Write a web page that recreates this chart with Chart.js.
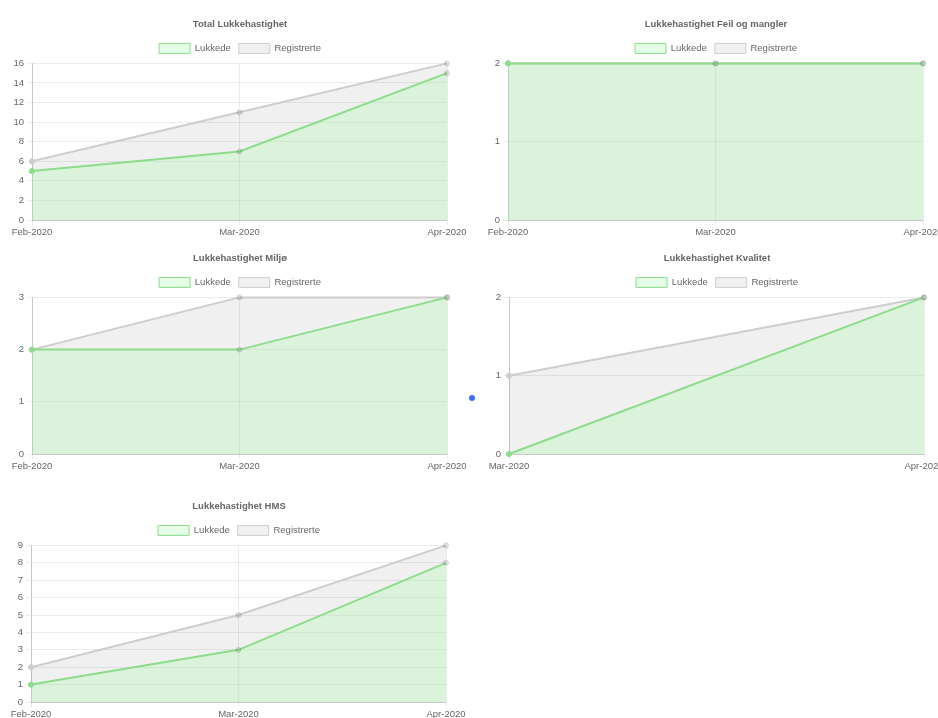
<!DOCTYPE html>
<html>
<head>
<meta charset="utf-8">
<title>Lukkehastighet</title>
<script src="https://cdn.jsdelivr.net/npm/chart.js@4.4.1/dist/chart.umd.min.js"></script>
<style>
  html, body { margin: 0; padding: 0; background: #fff; width: 938px; height: 718px; overflow: hidden; position: relative; }
  .chart-box { position: absolute; width: 480px; height: 238px; }
  .chart-box canvas { display: block; }
  #box-0 { left: 0; top: 0; }
  #box-1 { left: 476px; top: 0; }
  #box-2 { left: 0; top: 234px; }
  #box-3 { left: 477px; top: 234px; }
  #box-4 { left: -1px; top: 482px; }
  .page-dot { position: absolute; left: 469px; top: 395px; width: 6px; height: 6px; border-radius: 50%; background: #3b6ef5; }
</style>
</head>
<body>
<div class="chart-box" id="box-0"><canvas id="chart-0" width="480" height="238"></canvas></div>
<div class="chart-box" id="box-1"><canvas id="chart-1" width="480" height="238"></canvas></div>
<div class="chart-box" id="box-2"><canvas id="chart-2" width="480" height="238"></canvas></div>
<div class="chart-box" id="box-3"><canvas id="chart-3" width="480" height="238"></canvas></div>
<div class="chart-box" id="box-4"><canvas id="chart-4" width="480" height="238"></canvas></div>
<div class="page-dot"></div>

<script>
const chartTitles = [
    'Total Lukkehastighet',
    'Lukkehastighet Feil og mangler',
    'Lukkehastighet Miljø',
    'Lukkehastighet Kvalitet',
    'Lukkehastighet HMS'
];
const seriesNames = ['Lukkede', 'Registrerte'];
const monthLabels = [
    ['Feb-2020', 'Mar-2020', 'Apr-2020'],
    ['Feb-2020', 'Mar-2020', 'Apr-2020'],
    ['Feb-2020', 'Mar-2020', 'Apr-2020'],
    ['Mar-2020', 'Apr-2020'],
    ['Feb-2020', 'Mar-2020', 'Apr-2020']
];
const lukkedeValues = [[5, 7, 15], [2, 2, 2], [2, 2, 3], [0, 2], [1, 3, 8]];
const registrerteValues = [[6, 11, 16], [2, 2, 2], [2, 3, 3], [1, 2], [2, 5, 9]];
const yMaxValues = [16, 2, 3, 2, 9];
const yStepValues = [2, 1, 1, 1, 1];

const GREEN_LINE = 'rgb(140, 220, 140)';
const GREEN_FILL = 'rgba(170, 250, 170, 0.32)';
const GREY_LINE = 'rgb(205, 205, 205)';
const GREY_FILL = 'rgba(0, 0, 0, 0.06)';
const DEFAULT_POINT = 'rgba(0, 0, 0, 0.1)'; // fallback colour for points past the first

Chart.defaults.font.family = "'Liberation Sans', Arial, sans-serif";
Chart.defaults.font.size = 9.5;
Chart.defaults.color = '#666';

// first point keeps the series colour, the rest use the default grey
function pointColors(values, first) {
    return values.map((_, i) => i === 0 ? first : DEFAULT_POINT);
}

function buildChart(idx) {
    const gridColor = 'rgba(0, 0, 0, 0.08)';
    return new Chart(document.getElementById('chart-' + idx), {
        type: 'line',
        data: {
            labels: monthLabels[idx],
            datasets: [
                {
                    label: seriesNames[0],
                    data: lukkedeValues[idx],
                    backgroundColor: GREEN_FILL,
                    borderColor: GREEN_LINE,
                    borderWidth: 2,
                    fill: 'origin',
                    tension: 0,
                    clip: false,
                    pointRadius: 2.6,
                    pointBorderWidth: 1,
                    pointBackgroundColor: pointColors(lukkedeValues[idx], GREEN_LINE),
                    pointBorderColor: pointColors(lukkedeValues[idx], GREEN_LINE)
                },
                {
                    label: seriesNames[1],
                    data: registrerteValues[idx],
                    backgroundColor: GREY_FILL,
                    borderColor: GREY_LINE,
                    borderWidth: 2,
                    fill: 'origin',
                    tension: 0,
                    clip: false,
                    pointRadius: 2.6,
                    pointBorderWidth: 1,
                    pointBackgroundColor: pointColors(registrerteValues[idx], GREY_LINE),
                    pointBorderColor: pointColors(registrerteValues[idx], GREY_LINE)
                }
            ]
        },
        options: {
            responsive: false,
            animation: false,
            events: [],
            layout: { padding: 0 },
            plugins: {
                title: {
                    display: true,
                    text: chartTitles[idx],
                    color: '#666',
                    font: { size: 9.5, weight: 'bold' },
                    padding: { top: 19, bottom: 5 }
                },
                legend: {
                    labels: {
                        boxWidth: 31,
                        boxHeight: 10,
                        padding: 8,
                        color: '#666',
                        generateLabels: chart => Chart.defaults.plugins.legend.labels
                            .generateLabels(chart)
                            .map(item => ({ ...item, lineWidth: 1 }))
                    }
                },
                tooltip: { enabled: false }
            },
            scales: {
                x: {
                    grid: { color: gridColor, tickLength: 5 },
                    border: { color: 'rgba(0, 0, 0, 0.15)' },
                    ticks: { padding: 2, maxRotation: 0, autoSkip: false },
                    afterFit: axis => {
                        axis.height = 18;
                        axis.paddingRight = 33;
                    }
                },
                y: {
                    min: 0,
                    max: yMaxValues[idx],
                    grid: { color: gridColor, tickLength: 5 },
                    border: { color: 'rgba(0, 0, 0, 0.15)' },
                    ticks: { stepSize: yStepValues[idx], padding: 3 },
                    afterFit: axis => { axis.width = 32; }
                }
            }
        }
    });
}

chartTitles.forEach((_, idx) => buildChart(idx));
</script>
</body>
</html>
